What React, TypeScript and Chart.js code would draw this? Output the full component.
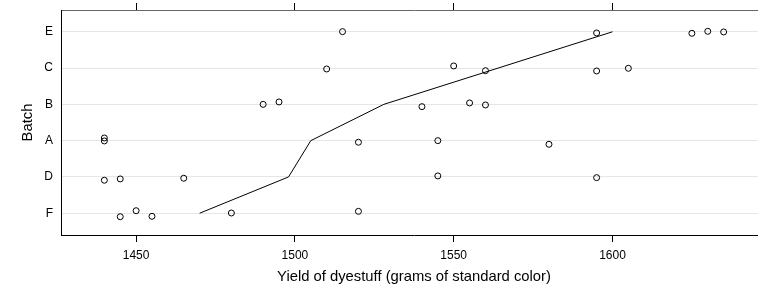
import React, { useEffect, useRef } from "react";
import { Chart, registerables } from "chart.js";

Chart.register(...registerables);

// Categories (bottom to top)
const batches = ["F", "D", "A", "B", "C", "E"];

// Yield values per batch (grams of standard color)
const yieldF = [1445, 1450, 1455, 1480, 1520];
const yieldD = [1440, 1445, 1465, 1545, 1595];
const yieldA = [1440, 1440, 1520, 1545, 1580];
const yieldB = [1490, 1495, 1540, 1555, 1560];
const yieldC = [1510, 1550, 1560, 1595, 1605];
const yieldE = [1515, 1595, 1625, 1630, 1635];

// Vertical jitter of each point (category units)
const jitterF = [-0.096, 0.069, -0.085, 0.006, 0.052];
const jitterD = [-0.091, -0.055, -0.036, 0.028, -0.019];
const jitterA = [0.074, -0.008, -0.044, 0.0, -0.1];
const jitterB = [0.0, 0.066, -0.063, 0.039, -0.017];
const jitterC = [-0.025, 0.058, -0.072, -0.08, -0.006];
const jitterE = [0.004, -0.033, -0.042, 0.013, -0.005];

// Batch means (connecting line)
const batchMeans = [1470, 1498, 1505, 1528, 1564, 1600];

// Axis ticks and range
const xTicks = [1450, 1500, 1550, 1600];
const xMin = 1426.35;
const xMax = 1648.65;

const yieldsByBatch = [yieldF, yieldD, yieldA, yieldB, yieldC, yieldE];
const jitterByBatch = [jitterF, jitterD, jitterA, jitterB, jitterC, jitterE];

export default function App() {
  const ref = useRef<HTMLCanvasElement | null>(null);

  useEffect(() => {
    if (!ref.current) return;
    Chart.defaults.font.family = "'Liberation Sans', Arial, Helvetica, sans-serif";
    Chart.defaults.color = "#000";

    const points: { x: number; y: number }[] = [];
    yieldsByBatch.forEach((vals, i) => {
      vals.forEach((v, j) => points.push({ x: v, y: i + jitterByBatch[i][j] }));
    });
    const meanLine = batchMeans.map((m, i) => ({ x: m, y: i }));

    const chart = new Chart(ref.current, {
      type: "scatter",
      data: {
        datasets: [
          {
            type: "line",
            data: meanLine,
            borderColor: "#000",
            borderWidth: 1,
            pointRadius: 0,
            tension: 0,
            fill: false,
            xAxisID: "x",
            yAxisID: "y",
          },
          {
            type: "scatter",
            data: points,
            pointRadius: 3,
            pointBorderWidth: 1,
            borderColor: "#000",
            backgroundColor: "rgba(0,0,0,0)",
            xAxisID: "x",
            yAxisID: "y",
          },
        ],
      },
      options: {
        animation: false,
        responsive: false,
        devicePixelRatio: 1,
        layout: { padding: 0, autoPadding: false },
        plugins: { legend: { display: false }, tooltip: { enabled: false } },
        scales: {
          x: {
            type: "linear",
            position: "bottom",
            min: xMin,
            max: xMax,
            afterBuildTicks: (s: any) => {
              s.ticks = xTicks.map((v) => ({ value: v }));
            },
            afterFit: (s: any) => {
              s.height = 51;
              s.paddingLeft = 0;
              s.paddingRight = 0;
            },
            grid: { drawOnChartArea: false, tickLength: 7, color: "#000" },
            border: { color: "#000" },
            ticks: { padding: 6, font: { size: 12 }, maxRotation: 0, callback: (v: any) => String(v) },
            title: {
              display: true,
              text: "Yield of dyestuff (grams of standard color)",
              font: { size: 14.8 },
              padding: 0,
            },
          },
          x2: {
            type: "linear",
            position: "top",
            min: xMin,
            max: xMax,
            afterBuildTicks: (s: any) => {
              s.ticks = xTicks.map((v) => ({ value: v }));
            },
            afterFit: (s: any) => {
              s.height = 10;
              s.paddingLeft = 0;
              s.paddingRight = 0;
            },
            grid: { drawOnChartArea: false, tickLength: 7, color: "#000" },
            border: { color: "#666" },
            ticks: { display: false },
          },
          y: {
            type: "linear",
            position: "left",
            min: -0.6,
            max: 5.6,
            afterBuildTicks: (s: any) => {
              s.ticks = batches.map((_, i) => ({ value: i }));
            },
            afterFit: (s: any) => {
              s.width = 61;
              s.paddingTop = 0;
              s.paddingBottom = 0;
            },
            grid: { drawTicks: false, tickLength: 0, color: "#e6e6e6" },
            border: { color: "#000" },
            ticks: {
              padding: 8,
              font: { size: 12 },
              callback: (v: any) => batches[Math.round(Number(v))] ?? "",
            },
            title: {
              display: true,
              text: "Batch",
              font: { size: 14.8 },
              padding: { top: 19, bottom: 0 },
            },
          },
        },
      },
    });
    return () => chart.destroy();
  }, []);

  return (
    <div
      style={{
        position: "fixed",
        left: 0,
        top: 0,
        width: 758,
        height: 286,
        overflow: "hidden",
        background: "#fff",
      }}
    >
      <canvas
        ref={ref}
        width={767}
        height={286}
        style={{ display: "block", width: 767, height: 286 }}
      />
    </div>
  );
}
